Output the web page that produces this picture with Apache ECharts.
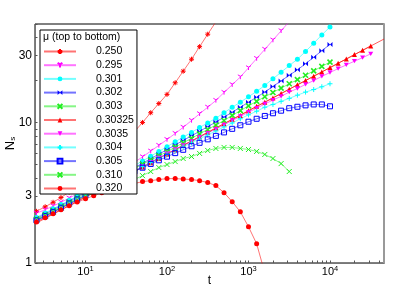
<!DOCTYPE html>
<html><head><meta charset="utf-8">
<script src="https://cdn.jsdelivr.net/npm/echarts@6/dist/echarts.min.js"></script>
<style>html,body{margin:0;padding:0;background:#fff}#c{width:415px;height:288px}</style>
</head><body><div id="c"></div>
<script>
// time grid (shared by all series)
const t = [2.5, 3.2, 4, 5, 6.3, 7.9, 10, 12.6, 15.8, 20, 25.1, 31.6, 39.8, 50.1, 63.1, 79.4,
  100, 126, 158, 200, 251, 316, 398, 501, 631, 794, 1000, 1259, 1585, 1995, 2512, 3162,
  3981, 5012, 6310, 7943, 10000, 12589, 15849, 19953, 25119, 31623];

const n250 = [2.33, 2.51, 2.70, 2.92, 3.19, 3.51, 3.85, 4.34, 4.87, 5.50, 6.36, 7.39, 8.57, 9.98, 11.7, 13.6, 15.8, 19.1, 23.1, 28.1, 34.5, 42.3, 51.8, 63.8];
const n295 = [2.26, 2.39, 2.54, 2.70, 2.89, 3.10, 3.32, 3.58, 3.86, 4.16, 4.49, 4.83, 5.20, 5.68, 6.24, 6.85, 7.54, 8.33, 9.21, 10.3, 11.5, 12.8, 14.3, 16.3, 18.5, 21.0, 24.4, 28.4, 33.0, 38.4, 44.7, 52.0];
const n301 = [2.11, 2.27, 2.43, 2.60, 2.79, 3.00, 3.21, 3.45, 3.70, 3.97, 4.27, 4.59, 4.92, 5.31, 5.74, 6.21, 6.71, 7.27, 7.85, 8.48, 9.18, 9.91, 10.7, 11.7, 12.8, 13.9, 15.2, 16.6, 18.3, 20.4, 22.7, 25.3, 28.1, 31.9, 36.5, 41.8, 47.7];
const n302 = [2.08, 2.23, 2.39, 2.56, 2.75, 2.95, 3.16, 3.39, 3.62, 3.88, 4.16, 4.45, 4.76, 5.12, 5.51, 5.94, 6.39, 6.90, 7.44, 8.02, 8.63, 9.31, 10.05, 10.9, 11.8, 12.8, 13.9, 15.1, 16.4, 18.0, 19.7, 21.6, 23.6, 26.1, 29.0, 32.3, 35.8];
const n303 = [2.05, 2.19, 2.35, 2.52, 2.70, 2.90, 3.11, 3.33, 3.56, 3.82, 4.09, 4.38, 4.69, 5.03, 5.39, 5.77, 6.18, 6.66, 7.15, 7.69, 8.28, 8.90, 9.57, 10.3, 11.2, 12.1, 13.1, 14.1, 15.2, 16.3, 17.5, 18.8, 20.1, 21.6, 23.2, 25.0, 26.8];
const n30325 = [2.01, 2.15, 2.29, 2.46, 2.61, 2.78, 2.94, 3.15, 3.37, 3.63, 3.89, 4.18, 4.48, 4.81, 5.16, 5.54, 5.95, 6.38, 6.85, 7.35, 7.89, 8.48, 9.10, 9.77, 10.5, 11.2, 12.1, 13.0, 13.9, 14.9, 16.0, 17.2, 18.5, 19.8, 21.3, 22.8, 24.5, 26.3, 28.2, 30.3, 32.5, 34.9];
const n3035 = [1.98, 2.12, 2.28, 2.44, 2.62, 2.81, 3.01, 3.23, 3.45, 3.70, 3.96, 4.24, 4.53, 4.86, 5.21, 5.58, 5.98, 6.41, 6.85, 7.33, 7.83, 8.39, 8.95, 9.60, 10.3, 11.0, 11.8, 12.6, 13.5, 14.4, 15.3, 16.4, 17.4, 18.6, 19.8, 21.2, 22.6, 24.1, 25.6, 27.2, 28.8, 30.7];
const n304 = [2.01, 2.16, 2.31, 2.48, 2.66, 2.85, 3.06, 3.27, 3.49, 3.73, 3.98, 4.25, 4.54, 4.85, 5.18, 5.52, 5.90, 6.29, 6.70, 7.15, 7.64, 8.14, 8.68, 9.27, 9.89, 10.6, 11.3, 12.0, 12.8, 13.4, 14.1, 14.8, 15.6, 16.4, 17.1, 17.9, 18.8];
const n305 = [2.01, 2.16, 2.31, 2.47, 2.65, 2.83, 3.03, 3.24, 3.45, 3.68, 3.93, 4.20, 4.48, 4.76, 5.06, 5.37, 5.70, 6.04, 6.38, 6.76, 7.15, 7.57, 8.01, 8.48, 8.99, 9.53, 10.1, 10.6, 11.1, 11.6, 12.1, 12.6, 12.9, 13.2, 13.4, 13.4, 13.0];
const n310 = [2.03, 2.17, 2.31, 2.47, 2.64, 2.82, 2.98, 3.16, 3.32, 3.49, 3.64, 3.79, 3.92, 4.18, 4.47, 4.77, 5.01, 5.26, 5.53, 5.71, 6.01, 6.31, 6.52, 6.63, 6.63, 6.52, 6.41, 6.21, 5.91, 5.53, 5.09, 4.47];
const n320 = [1.96, 2.10, 2.24, 2.39, 2.55, 2.71, 2.86, 3.01, 3.16, 3.32, 3.43, 3.58, 3.67, 3.79, 3.85, 3.92, 3.98, 3.98, 3.95, 3.92, 3.85, 3.73, 3.55, 3.16, 2.73, 2.31, 1.81, 1.37, 0.85];

// power-law guide line for mu = 0.30325
const fitT = [2.4, 46000];
const fitN = [1.90, 39.1];

const xLabelVals = [10, 100, 1000, 10000];
const yLabelVals = [1, 3, 10, 30];

const RED = '#ff0000', MAG = '#ff00ff', CYA = '#00ffff', BLU = '#0000ff', GRN = '#22ee22';
const P_AST = 'path://M5,0L5,10M0,5L10,5M1.5,1.5L8.5,8.5M8.5,1.5L1.5,8.5';
const P_Y = 'path://M5,5L5,10M5,5L0.67,2.5M5,5L9.33,2.5';
const P_BOW = 'path://M0,0L5,5L0,10ZM10,0L5,5L10,10Z';
const P_X = 'path://M0,0L10,10M10,0L0,10';
const P_PLUS = 'path://M5,0L5,10M0,5L10,5';
const P_TDN = 'path://M0,0L10,0L5,8.66Z';

const defs = [
  ['0.250', n250, RED, P_AST, 'stroke'],
  ['0.295', n295, MAG, P_Y, 'stroke'],
  ['0.301', n301, CYA, 'circle', 'fill'],
  ['0.302', n302, BLU, P_BOW, 'fill'],
  ['0.303', n303, GRN, P_X, 'thick'],
  ['0.30325', n30325, RED, 'triangle', 'fill'],
  ['0.3035', n3035, MAG, P_TDN, 'fill'],
  ['0.304', n304, CYA, P_PLUS, 'stroke'],
  ['0.305', n305, BLU, 'rect', 'empty'],
  ['0.310', n310, GRN, P_X, 'stroke'],
  ['0.320', n320, RED, 'circle', 'fill']
];

const series = defs.map(([name, vals, c, sym, mode]) => {
  let itemStyle;
  if (mode === 'fill') itemStyle = { color: c };
  else if (mode === 'empty') itemStyle = { color: 'rgba(255,255,255,0)', borderColor: c, borderWidth: 1 };
  else if (mode === 'thick') itemStyle = { color: c, borderColor: c, borderWidth: 1.6 };
  else itemStyle = { color: c, borderColor: c, borderWidth: 1 };
  return {
    name, type: 'line',
    data: vals.map((v, i) => [t[i], v]),
    symbol: sym, symbolSize: 5, symbolKeepAspect: true,
    showAllSymbol: true,
    lineStyle: { color: c, width: 1, opacity: 0.55 },
    itemStyle,
    emphasis: { disabled: true },
    clip: true
  };
});
series.push({
  name: 'fit', type: 'line',
  data: fitT.map((x, i) => [x, fitN[i]]),
  symbol: 'none', lineStyle: { color: RED, width: 0.8, opacity: 0.8 },
  z: 1, clip: true
});

const xTicks = [], yTicks = [];
for (let e = 0; e <= 4; e++) for (let m = 1; m <= 9; m++) {
  const v = m * Math.pow(10, e);
  if (v >= 2.4 && v <= 46000) xTicks.push(v);
}
for (let e = 0; e <= 1; e++) for (let m = 1; m <= 9; m++) {
  const v = m * Math.pow(10, e);
  if (v >= 1 && v <= 50) yTicks.push(v);
}

const FONT = 'Liberation Sans, Arial, sans-serif';
const chart = echarts.init(document.getElementById('c'), null, { renderer: 'canvas' });
chart.setOption({
  animation: false,
  backgroundColor: '#fff',
  textStyle: { fontFamily: FONT },
  title: {
    text: 'μ (top to bottom)', left: 43, top: 32, padding: 0,
    textStyle: { fontSize: 10.5, fontWeight: 'normal', color: '#000', fontFamily: FONT }
  },
  grid: { left: 35, top: 24, right: 31, bottom: 25, outerBoundsMode: 'none', containLabel: false,
    show: true, borderColor: '#000', borderWidth: 1, backgroundColor: 'transparent' },
  legend: {
    data: defs.map(d => d[0]),
    orient: 'vertical', left: 40, top: 30,
    padding: [16, 3, 0, 3],
    itemWidth: 32, itemHeight: 6, itemGap: 2.7,
    selectedMode: false,
    backgroundColor: '#fff', borderColor: '#000', borderWidth: 1,
    textStyle: { fontSize: 10.5, color: '#000', lineHeight: 11, padding: [0, 0, 0, 15], fontFamily: FONT }
  },
  xAxis: [{
    type: 'log', min: 2.4, max: 46000,
    name: 't', nameLocation: 'middle', nameGap: 12, nameMoveOverlap: false,
    nameTextStyle: { fontSize: 12, color: '#000' },
    axisLine: { lineStyle: { color: '#777', width: 1 } },
    axisTick: { inside: true, length: 2.5, customValues: xTicks, lineStyle: { color: '#555' } },
    minorTick: { show: false },
    splitLine: { show: false },
    axisLabel: {
      customValues: xLabelVals, margin: 2, color: '#000',
      formatter: v => '{b|10}{s|' + Math.round(Math.log10(v)) + '}',
      rich: { b: { fontSize: 11, lineHeight: 14, color: '#000' }, s: { fontSize: 7.5, lineHeight: 9, verticalAlign: 'top', color: '#000' } }
    }
  }],
  yAxis: [{
    type: 'log', min: 1, max: 50,
    name: 'N{s|s}', nameLocation: 'middle', nameGap: 18, nameRotate: 90, nameMoveOverlap: false,
    nameTextStyle: { fontSize: 13, color: '#000', rich: { s: { fontSize: 8, verticalAlign: 'bottom', lineHeight: 10 } } },
    axisLine: { lineStyle: { color: '#777', width: 1 } },
    axisTick: { inside: true, length: 2.5, customValues: yTicks, lineStyle: { color: '#555' } },
    minorTick: { show: false },
    splitLine: { show: false },
    axisLabel: { customValues: yLabelVals, margin: 3, fontSize: 12, color: '#000', formatter: v => String(Math.round(v)) }
  }, {
    type: 'log', min: 1, max: 50, position: 'right',
    axisLine: { show: true, lineStyle: { color: '#999', width: 2 } },
    axisTick: { show: false }, axisLabel: { show: false }, splitLine: { show: false }
  }],
  series
});
</script></body></html>
